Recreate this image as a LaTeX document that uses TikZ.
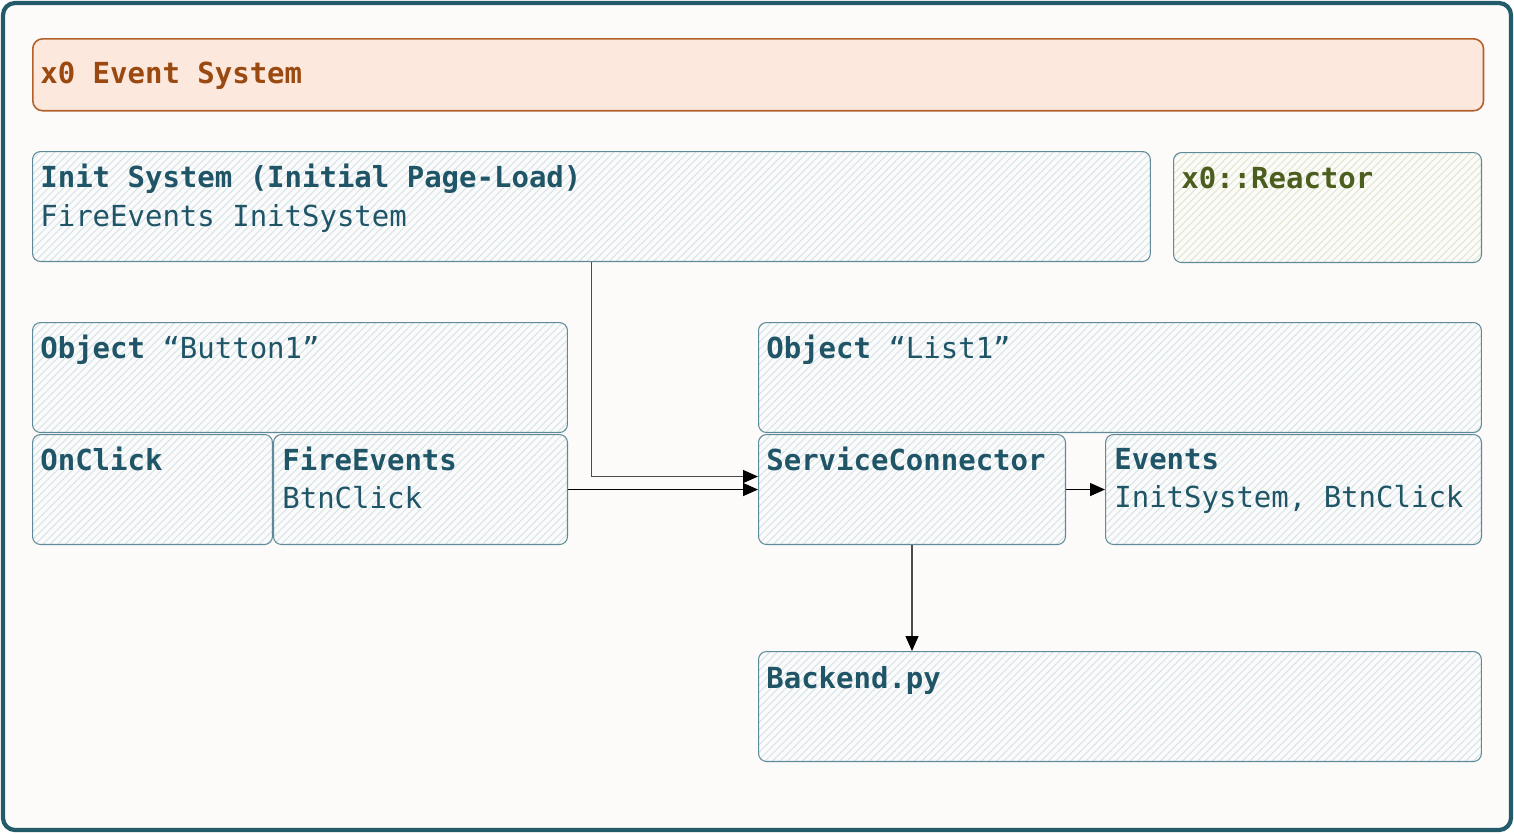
\documentclass[tikz,border=0pt]{standalone}
\usepackage{fontspec}
\setmainfont{DejaVu Sans Mono}
\usetikzlibrary{arrows.meta,patterns.meta}

\definecolor{frameteal}{HTML}{245B6B}
\definecolor{paper}{HTML}{FCFBF9}
\definecolor{boxline}{HTML}{5E8A99}
\definecolor{boxtext}{HTML}{1F5566}
\definecolor{hatchblue}{HTML}{D3E5EE}
\definecolor{hatchgreen}{HTML}{DFE7CC}
\definecolor{reactortext}{HTML}{4B5E1E}
\definecolor{titlefill}{HTML}{FCE8DC}
\definecolor{titleline}{HTML}{B3612A}
\definecolor{titletext}{HTML}{9A4A10}

\begin{document}
\begin{tikzpicture}[x=0.02cm, y=-0.02cm]
		
		% Define basic styles
		\tikzset{
			box/.style={
				rectangle, draw=boxline, line width=0.6pt, rounded corners=0.16cm,
				pattern={Lines[angle=45, distance=3pt, line width=0.6pt]},
				pattern color=hatchblue,
				anchor=north west, inner sep=0pt, minimum height=2.2cm
			},
			heading/.style={
				anchor=base west, inner sep=0pt, text=boxtext,
				font=\fontsize{16.5}{20}\selectfont\bfseries
			},
			plain/.style={
				anchor=base west, inner sep=0pt, text=boxtext,
				font=\fontsize{16.5}{20}\selectfont
			},
			arrow/.style={
				line width=0.8pt, ->, >={Triangle[length=0.3cm, width=0.26cm, black]}
			}
		}
		
		\useasboundingbox (0,0) rectangle (1514,833);
		\draw[frameteal, fill=paper, line width=2.4pt, rounded corners=0.24cm] (3,3) rectangle (1511,830);
		
		% Nodes
		\node[rectangle, draw=titleline, fill=titlefill, line width=0.9pt, rounded corners=0.2cm,
			anchor=north west, inner sep=0pt, minimum width=29.02cm, minimum height=1.44cm] (title) at (32,38) {};
		\node[heading, text=titletext] (title-text) at (40,83) {x0 Event System};
		
		\node[box, minimum width=22.36cm] (init) at (32,151) {};
		\node[heading] (init-head) at (40,187) {Init System (Initial Page-Load)};
		\node[plain] (init-body) at (40,226) {FireEvents InitSystem};
		
		\node[box, pattern color=hatchgreen, minimum width=6.16cm] (reactor) at (1173,152) {};
		\node[heading, text=reactortext] (reactor-head) at (1181,188) {x0::Reactor};
		
		\node[box, minimum width=10.7cm] (button) at (32,322) {};
		\node[plain] (button-head) at (40,358) {\textbf{Object} “Button1”};
		\node[box, minimum width=4.8cm] (onclick) at (32,434) {};
		\node[heading] (onclick-head) at (40,470) {OnClick};
		\node[box, minimum width=5.88cm] (fire) at (273,434) {};
		\node[heading] (fire-head) at (282,470) {FireEvents};
		\node[plain] (fire-body) at (282,508) {BtnClick};
		
		\node[box, minimum width=14.46cm] (list) at (758,322) {};
		\node[plain] (list-head) at (766,358) {\textbf{Object} “List1”};
		\node[box, minimum width=6.14cm] (service) at (758,434) {};
		\node[heading] (service-head) at (766,470) {ServiceConnector};
		\node[box, minimum width=7.52cm] (events) at (1105,434) {};
		\node[heading] (events-head) at (1114,469) {Events};
		\node[plain] (events-body) at (1114,507) {InitSystem, BtnClick};
		
		\node[box, minimum width=14.46cm] (backend) at (758,651) {};
		\node[heading] (backend-head) at (766,688) {Backend.py};
		
		% Arrows
		\draw[arrow, draw=black!70] (init.south) |- ([yshift=0.26cm]service.west);
		\draw[arrow] (fire.east) -- (service.west);
		\draw[arrow] (service.east) -- (events.west);
		\draw[arrow, draw=black!70] (service.south) -- (service.south |- backend.north);
		
	\end{tikzpicture}
\end{document}
